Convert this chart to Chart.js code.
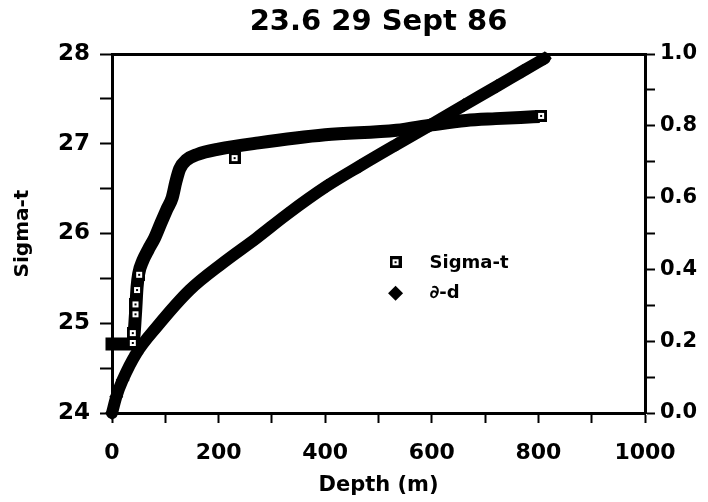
<!DOCTYPE html>
<html>
<head>
<meta charset="utf-8">
<script src="https://cdn.jsdelivr.net/npm/chart.js@4.4.0/dist/chart.umd.min.js"></script>
<style>
  html, body { margin: 0; padding: 0; background: #fff; }
  #wrap { width: 708px; height: 502px; }
</style>
</head>
<body>
<div id="wrap"><canvas id="chart" width="708" height="502"></canvas></div>
<script>
// Sigma-t profile (dense band of overlapping squares)
const sigmaDepth = [0, 35, 40, 44, 47, 50, 58, 68, 80, 92, 103, 113, 120, 127, 140, 160, 200, 275, 400, 534, 600, 664, 720, 790];
const sigmaValues = [24.77, 24.77, 24.8, 25.1, 25.4, 25.55, 25.7, 25.82, 25.95, 26.12, 26.27, 26.4, 26.58, 26.72, 26.82, 26.88, 26.94, 27.01, 27.1, 27.15, 27.21, 27.26, 27.28, 27.3];

// Sigma-t samples that stand out as single squares
const squareDepth = [39, 39, 44, 44, 47, 51, 230, 805];
const squareValues = [24.78, 24.89, 25.10, 25.21, 25.37, 25.54, 26.84, 27.31];

// ∂-d curve (right axis)
const ddDepth = [0, 8, 20, 46, 84, 146, 208, 271, 328, 403, 465, 534, 596, 660, 722, 770, 812];
const ddValues = [0, 0.045, 0.092, 0.167, 0.24, 0.343, 0.418, 0.487, 0.553, 0.632, 0.688, 0.748, 0.801, 0.857, 0.910, 0.952, 0.988];

const titleText = '23.6 29 Sept 86';
const xTitle = 'Depth (m)';
const yTitle = 'Sigma-t';

const FONT = "'DejaVu Sans', sans-serif";

const toPoints = (xs, ys) => xs.map((x, i) => ({ x: x, y: ys[i] }));

// square marker with white ring and centre dot
function makeSquare(size) {
    const c = document.createElement('canvas');
    c.width = size; c.height = size;
    const g = c.getContext('2d');
    g.fillStyle = '#000';
    g.fillRect(0, 0, size, size);
    g.fillStyle = '#fff';
    g.fillRect(3, 3, size - 6, size - 6);
    g.fillStyle = '#000';
    g.fillRect(size / 2 - 1, size / 2 - 1, 2, 2);
    return c;
}
const squareMark = makeSquare(12);

// legend drawn inside the plot area
const insideLegend = {
    id: 'insideLegend',
    afterDraw(chart) {
        const ctx = chart.ctx;
        const x = chart.scales.x.getPixelForValue(532);
        const y1 = chart.scales.y.getPixelForValue(25.68);
        const y2 = y1 + 31;
        ctx.save();
        ctx.drawImage(squareMark, x - 6, y1 - 6);
        ctx.fillStyle = '#000';
        ctx.beginPath();
        ctx.moveTo(x, y2 - 7.5);
        ctx.lineTo(x + 7.5, y2);
        ctx.lineTo(x, y2 + 7.5);
        ctx.lineTo(x - 7.5, y2);
        ctx.closePath();
        ctx.fill();
        ctx.font = 'bold 18px ' + FONT;
        ctx.textBaseline = 'middle';
        ctx.fillText(chart.data.datasets[1].label, x + 34, y1 + 1);
        ctx.fillText(chart.data.datasets[2].label, x + 34, y2);
        ctx.restore();
    }
};

const axisGrid = (len) => ({
    display: true,
    drawOnChartArea: false,
    drawTicks: true,
    tickLength: len,
    tickWidth: 2,
    color: '#000'
});
const axisBorder = { display: true, color: '#000', width: 3 };

new Chart(document.getElementById('chart'), {
    type: 'line',
    data: {
        datasets: [
            {
                label: 'Sigma-t band',
                data: toPoints(sigmaDepth, sigmaValues),
                yAxisID: 'y',
                order: 1,
                borderColor: '#000',
                borderWidth: 13,
                borderCapStyle: 'square',
                borderJoinStyle: 'round',
                cubicInterpolationMode: 'monotone',
                pointRadius: 0,
                clip: 10
            },
            {
                label: 'Sigma-t',
                data: toPoints(squareDepth, squareValues),
                yAxisID: 'y',
                order: -1,
                showLine: false,
                pointStyle: squareMark,
                clip: 10
            },
            {
                label: '∂-d',
                data: toPoints(ddDepth, ddValues),
                yAxisID: 'y2',
                order: 2,
                borderColor: '#000',
                backgroundColor: '#000',
                borderWidth: 12,
                borderCapStyle: 'round',
                borderJoinStyle: 'round',
                cubicInterpolationMode: 'monotone',
                pointStyle: 'rectRot',
                pointRadius: 7,
                pointBorderWidth: 0,
                clip: 10
            }
        ]
    },
    options: {
        responsive: false,
        animation: false,
        layout: { padding: 0 },
        plugins: {
            legend: { display: false },
            tooltip: { enabled: false },
            title: {
                display: true,
                text: titleText,
                fullSize: false,
                color: '#000',
                font: { family: FONT, size: 29, weight: 'bold' },
                padding: { top: 5, bottom: 14.2 }
            }
        },
        scales: {
            x: {
                type: 'linear',
                position: 'bottom',
                min: 0,
                max: 1000,
                afterFit(s) { s.height = 89; },
                grid: axisGrid(10),
                border: axisBorder,
                ticks: {
                    stepSize: 100,
                    autoSkip: false,
                    maxRotation: 0,
                    padding: 17,
                    color: '#000',
                    font: { family: FONT, size: 22, weight: 'bold' },
                    callback: (v) => (v % 200 === 0 ? String(v) : '')
                },
                title: {
                    display: true,
                    text: xTitle,
                    color: '#000',
                    font: { family: FONT, size: 21, weight: 'bold' },
                    padding: { top: 0, bottom: 4 }
                }
            },
            xTop: {
                type: 'linear',
                position: 'top',
                min: 0,
                max: 1000,
                afterFit(s) { s.height = 0; },
                grid: { display: false },
                border: axisBorder,
                ticks: { display: false }
            },
            y: {
                type: 'linear',
                position: 'left',
                min: 24,
                max: 28,
                afterFit(s) { s.width = 112; },
                grid: axisGrid(12),
                border: axisBorder,
                ticks: {
                    stepSize: 0.5,
                    autoSkip: false,
                    padding: 10,
                    color: '#000',
                    font: { family: FONT, size: 23, weight: 'bold' },
                    callback: (v) => (Math.abs(v - Math.round(v)) < 1e-6 ? String(Math.round(v)) : '')
                },
                title: {
                    display: true,
                    text: yTitle,
                    color: '#000',
                    font: { family: FONT, size: 20, weight: 'bold' },
                    padding: { top: 11, bottom: 0 }
                }
            },
            y2: {
                type: 'linear',
                position: 'right',
                min: 0,
                max: 1,
                afterFit(s) { s.width = 63; },
                grid: axisGrid(10),
                border: axisBorder,
                ticks: {
                    stepSize: 0.1,
                    autoSkip: false,
                    padding: 5,
                    color: '#000',
                    font: { family: FONT, size: 21, weight: 'bold' },
                    callback: (v) => {
                        const r = Math.round(v * 10);
                        return r % 2 === 0 ? (r / 10).toFixed(1) : '';
                    }
                }
            }
        }
    },
    plugins: [insideLegend]
});
</script>
</body>
</html>
